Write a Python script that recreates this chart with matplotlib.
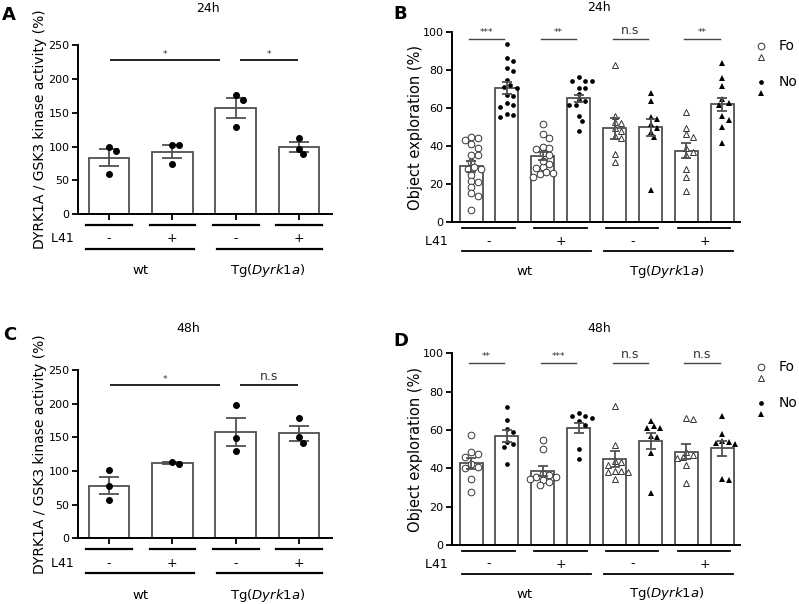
import numpy as np
import matplotlib
matplotlib.use('Agg')
import matplotlib.pyplot as plt
from matplotlib.lines import Line2D

plt.rcParams['font.family'] = ['DejaVu Sans']

W, H = 799, 604

# ---- kinase activity (A: 24h, C: 48h)
kin24_mean = [83.5, 92.5, 157, 99]
kin24_sem = [13, 9.5, 15, 7.5]
kin24_pts = [[100, 93, 59], [102, 102, 74], [176, 169, 128.5], [113, 97, 88.5]]
kin48_mean = [78, 112, 158, 156]
kin48_sem = [12.5, 2, 20.5, 11]
kin48_pts = [[101, 77, 57.5], [114, 110.5], [198.5, 149.5, 129], [178.5, 150.5, 142]]
kin24_sig = ['*', '*']
kin48_sig = ['*', 'n.s']

# ---- object exploration (B: 24h, D: 48h); order: Fo,No for wt-, wt+, Tg-, Tg+
nor24_mean = [29.5, 70.5, 34.9, 65.3, 49.5, 50, 37.7, 62.1]
nor24_sem = [3, 3.1, 2.35, 1.9, 5.5, 4.6, 4.0, 3.5]
nor24_pts = [
    [44.2, 44.7, 43.2, 41, 38.9, 35.6, 35.4, 31.9, 28, 28, 29, 25, 21.8, 21.4, 18.8, 15.3, 14, 6.5],
    [93.9, 86.3, 85, 79.8, 81.4, 74.9, 72.3, 71.4, 70.9, 67, 66.5, 62.6, 61.8, 60.9, 56.8, 55.6, 56.5],
    [51.8, 46.5, 44.2, 39.5, 38.6, 38.9, 36.3, 35.4, 30.5, 29.3, 32.5, 26, 28.4, 25.6, 26.5, 23.7],
    [76.3, 74.6, 74.4, 74.6, 70.5, 70.5, 67.5, 64.4, 64, 61.8, 61.8, 56.1, 53.5, 48.2],
    [82.8, 56.1, 53, 52.5, 49.8, 48, 45.4, 44.6, 36, 31.9],
    [68.2, 63.9, 54.4, 55.3, 51.6, 47.4, 49.5, 44.7, 17],
    [58.2, 49.8, 46.3, 45.1, 39.3, 37.2, 35.4, 28, 24, 16.7],
    [84, 75.8, 71.9, 64.7, 63, 61.8, 56.1, 53.9, 50.4, 41.6],
]
nor48_mean = [42.6, 57, 38.6, 60.9, 44.9, 54.3, 48.7, 50.4]
nor48_sem = [2.95, 3.05, 2.6, 2.6, 4.05, 4.25, 4.05, 3.9]
nor48_pts = [
    [57.4, 47.5, 46.1, 48.3, 42.3, 40, 40.5, 34.4, 27.8],
    [72.2, 65.2, 60.3, 58.8, 52.5, 51.3, 53.9, 42.3],
    [54.8, 49.9, 37, 35.3, 36.5, 35.7, 33.9, 33, 31.3, 34.3],
    [67.3, 68.7, 64.7, 66.1, 67.5, 62.6, 50.1, 44.9],
    [72.5, 52.2, 43.8, 43.1, 41.5, 38.6, 37.9, 38.6, 38, 34.4],
    [64.7, 61.2, 61.2, 62.1, 56.5, 57, 47.8, 27.3],
    [66.1, 65.7, 45.2, 47, 48.7, 46.1, 41.7, 32.2],
    [67.3, 57.7, 54.4, 53, 52.5, 53.6, 33.9, 34.3],
]
nor24_sig = ['***', '**', 'n.s', '**']
nor48_sig = ['**', '***', 'n.s', 'n.s']

l41 = ['-', '+', '-', '+']
groups = ['wt', r'Tg($\mathit{Dyrk1a}$)']

EDGE = '#505050'


def px_axes(l, t, r, b):
    return [l / W, 1 - b / H, (r - l) / W, (b - t) / H]


def swarm(vals, xs, ys, d):
    placed = []
    offs = np.zeros(len(vals))
    cands = [0.0]
    for n in range(1, 30):
        cands += [n * d / 2, -n * d / 2]
    for i in np.argsort(vals)[::-1]:
        y = vals[i] * ys
        for c in cands:
            if all((c - px) ** 2 + (y - py) ** 2 >= d * d * 0.75 for px, py in placed):
                break
        placed.append((c, y))
        offs[i] = c / xs
    return offs


def scales(ax):
    pos = ax.get_position()
    x0, x1 = ax.get_xlim()
    y0, y1 = ax.get_ylim()
    return pos.width * W / (x1 - x0), pos.height * H / (y1 - y0)


def below(ax, dy):
    return -dy / (ax.get_position().height * H)


def style_axes(ax, yticks):
    for s in ['top', 'right']:
        ax.spines[s].set_visible(False)
    ax.spines['left'].set_linewidth(1.4)
    ax.spines['bottom'].set_linewidth(1.4)
    ax.set_yticks(yticks)
    ax.tick_params(axis='y', length=4, width=1.3, labelsize=8, pad=2)


def kinase_panel(ax, means, sems, pts, sig):
    x = np.arange(4)
    ax.set_xlim(-0.49, 3.52)
    ax.set_ylim(0, 250)
    style_axes(ax, [0, 50, 100, 150, 200, 250])
    ax.bar(x, means, width=0.64, color='white', edgecolor=EDGE, linewidth=1.3, zorder=2)
    ax.errorbar(x, means, yerr=sems, fmt='none', ecolor=EDGE, elinewidth=1.3,
                capsize=7.5, capthick=1.3, zorder=3)
    xs, ys = scales(ax)
    for i, p in enumerate(pts):
        off = swarm(np.array(p), xs, ys, 7)
        ax.plot(i + off, p, 'o', ms=4, color='black', zorder=4, clip_on=False)
    ax.set_xticks(x)
    ax.set_xticklabels([])
    ax.tick_params(axis='x', length=4, width=1.3, direction='out')
    ax.set_ylabel('DYRK1A / GSK3 kinase activity (%)', fontsize=10, va='center')
    ax.yaxis.set_label_coords(-38 / 254, 0.5)
    # significance
    for (x0, x1), s in zip([(0.03, 1.73), (2.09, 2.97)], sig):
        ax.plot([x0, x1], [228, 228], color='#222222', lw=1.4, clip_on=False)
        ax.text((x0 + x1) / 2, 231 if s == 'n.s' else 229, s, ha='center', va='bottom',
                fontsize=9 if s == 'n.s' else 6.5, color='#333333')
    tr = ax.get_xaxis_transform()
    for i in range(4):
        ax.plot([i - 0.36, i + 0.36], [below(ax, 11)] * 2, color='black', lw=1.6,
                transform=tr, clip_on=False)
        ax.text(i, below(ax, 25), l41[i], ha='center', va='center', fontsize=9,
                transform=tr)
    ax.text(-0.49, below(ax, 25), 'L41 ', ha='right', va='center', fontsize=9, transform=tr)
    for (x0, x1), g, xc in zip([(-0.36, 1.34), (1.7, 3.36)], groups, [0.5, 2.5]):
        ax.plot([x0, x1], [below(ax, 35)] * 2, color='black', lw=1.6,
                transform=tr, clip_on=False)
        ax.text(xc, below(ax, 57), g, ha='center', va='center', fontsize=9.5, transform=tr)


def nor_panel(ax, means, sems, pts, sig, sig_y):
    x = np.arange(8)
    ax.set_xlim(-0.53, 7.49)
    ax.set_ylim(0, 100)
    style_axes(ax, [0, 20, 40, 60, 80, 100])
    ax.set_xticks([])
    ax.bar(x, means, width=0.64, color='white', edgecolor=EDGE, linewidth=1.3, zorder=2)
    xs, ys = scales(ax)
    for i, p in enumerate(pts):
        off = swarm(np.array(p), xs, ys, 6.5)
        tg = i >= 4
        novel = i % 2 == 1
        mk = '^' if tg else 'o'
        if novel:
            ax.plot(i + off, p, mk, ms=4.4 if tg else 3.4, color='black', mew=0, zorder=3)
        else:
            ax.plot(i + off, p, mk, ms=4.6 if tg else 4.8, mfc='white', mec='#333333',
                    mew=0.7, zorder=3)
    ax.errorbar(x, means, yerr=sems, fmt='none', ecolor=EDGE, elinewidth=1.3,
                capsize=3.8, capthick=1.3, zorder=4)
    ax.set_ylabel('Object exploration (%)', fontsize=10.5, va='center')
    ax.yaxis.set_label_coords(-37 / 288, 0.5)
    for p, s in enumerate(sig):
        x0, x1 = 2 * p - 0.06, 2 * p + 0.92
        ax.plot([x0, x1], [sig_y, sig_y], color='#444444', lw=1.0, clip_on=False)
        ax.text((x0 + x1) / 2, sig_y + (1.2 if s == 'n.s' else 0.8), s, ha='center',
                va='bottom', fontsize=9 if s == 'n.s' else 6.5, color='#333333')
    tr = ax.get_xaxis_transform()
    for p in range(4):
        ax.plot([2 * p - 0.25, 2 * p + 1.22], [below(ax, 5.5)] * 2, color='black', lw=1.3,
                transform=tr, clip_on=False)
        ax.text(2 * p + 0.5, below(ax, 19), l41[p], ha='center', va='center', fontsize=9,
                transform=tr)
    ax.text(-0.53, below(ax, 19), 'L41 ', ha='right', va='center', fontsize=9, transform=tr)
    for (x0, x1), g, xc in zip([(-0.26, 3.34), (3.7, 7.3)], groups, [1.5, 5.45]):
        ax.plot([x0, x1], [below(ax, 28.5)] * 2, color='black', lw=1.3,
                transform=tr, clip_on=False)
        ax.text(xc, below(ax, 49), g, ha='center', va='center', fontsize=9.5, transform=tr)


def legend(fig, y_fo):
    ys = [y_fo, y_fo + 11.5, y_fo + 36, y_fo + 47.5]
    specs = [dict(marker='o', ms=4.8, mfc='white', mec='#333333', mew=0.7),
             dict(marker='^', ms=4.6, mfc='white', mec='#333333', mew=0.7),
             dict(marker='o', ms=3.4, color='black', mew=0),
             dict(marker='^', ms=4.4, color='black', mew=0)]
    for y, sp in zip(ys, specs):
        fig.add_artist(Line2D([760.7 / W], [1 - y / H], transform=fig.transFigure,
                              linestyle='none', **sp))
    fig.text(779 / W, 1 - y_fo / H, 'Fo', fontsize=10, va='center')
    fig.text(779 / W, 1 - (y_fo + 36) / H, 'No', fontsize=10, va='center')


fig = plt.figure(figsize=(W / 100, H / 100), dpi=100)

axA = fig.add_axes(px_axes(78, 45.3, 332, 214))
kinase_panel(axA, kin24_mean, kin24_sem, kin24_pts, kin24_sig)
axC = fig.add_axes(px_axes(78, 370, 332, 538.3))
kinase_panel(axC, kin48_mean, kin48_sem, kin48_pts, kin48_sig)
axB = fig.add_axes(px_axes(452, 32.3, 740, 222.3))
nor_panel(axB, nor24_mean, nor24_sem, nor24_pts, nor24_sig, 96.5)
axD = fig.add_axes(px_axes(452, 353.3, 740, 545))
nor_panel(axD, nor48_mean, nor48_sem, nor48_pts, nor48_sig, 95)

legend(fig, 45.7)
legend(fig, 366.7)

for txt, x, y in [('24h', 207.5, 8.5), ('24h', 599, 7.3), ('48h', 188, 328.8), ('48h', 599, 328.8)]:
    fig.text(x / W, 1 - y / H, txt, ha='center', va='center', fontsize=9)
for txt, x, y in [('A', 2, 6), ('B', 393, 5), ('C', 3, 326), ('D', 393, 332)]:
    fig.text(x / W, 1 - y / H, txt, ha='left', va='top', fontsize=13, fontweight='bold')

fig.savefig('out.png', dpi=100)
